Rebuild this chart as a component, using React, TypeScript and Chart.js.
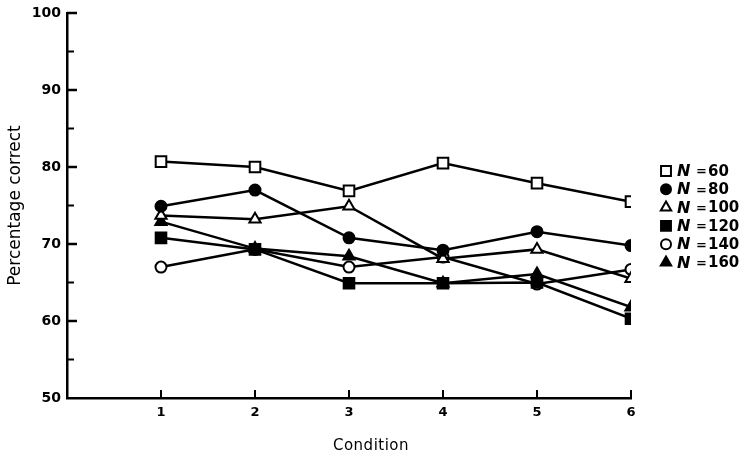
import React, { useEffect, useRef } from 'react';
import { Chart, registerables } from 'chart.js';
import { drawPoint } from 'chart.js/helpers';

Chart.register(...registerables);

const conditions = [1, 2, 3, 4, 5, 6];
const n60 = [80.7, 80.0, 76.9, 80.5, 77.9, 75.5];
const n80 = [74.9, 77.0, 70.8, 69.2, 71.6, 69.8];
const n100 = [73.7, 73.2, 74.9, 68.1, 69.3, 65.5];
const n120 = [70.8, 69.3, 64.9, 64.9, 65.0, 60.3];
const n140 = [67.0, 69.3, 67.0, 68.3, 64.8, 66.7];
const n160 = [72.9, 69.4, 68.4, 64.9, 66.1, 61.8];
const seriesNames = ['60', '80', '100', '120', '140', '160'];
const seriesValues = [n60, n80, n100, n120, n140, n160];
const xTitle = 'Condition';
const yTitle = 'Percentage correct';

const markerStyles = [
  { pointStyle: 'rect', radius: 7.5, fill: '#ffffff' },
  { pointStyle: 'circle', radius: 5.5, fill: '#000000' },
  { pointStyle: 'triangle', radius: 6.5, fill: '#ffffff' },
  { pointStyle: 'rect', radius: 7.5, fill: '#000000' },
  { pointStyle: 'circle', radius: 5.5, fill: '#ffffff' },
  { pointStyle: 'triangle', radius: 6.5, fill: '#000000' },
];

const FONT = '"DejaVu Sans", sans-serif';

const decorPlugin = {
  id: 'decor',
  beforeDraw(chart: any) {
    chart.ctx.letterSpacing = '0px';
  },
  afterDraw(chart: any) {
    const ctx = chart.ctx;
    const xs = chart.scales.x;
    const ys = chart.scales.y;
    const area = chart.chartArea;
    ctx.save();
    ctx.letterSpacing = '0px';
    ctx.strokeStyle = '#000';
    // y ticks (inward)
    for (let v = 55; v <= 100; v += 5) {
      const y = ys.getPixelForValue(v);
      const major = v % 10 === 0;
      ctx.lineWidth = major ? 2.5 : 2;
      ctx.beginPath();
      ctx.moveTo(area.left, y);
      ctx.lineTo(area.left + (major ? 10 : 7), y);
      ctx.stroke();
    }
    // x ticks (inward)
    ctx.lineWidth = 2;
    conditions.forEach((c) => {
      const x = xs.getPixelForValue(c);
      ctx.beginPath();
      ctx.moveTo(x, area.bottom);
      ctx.lineTo(x, area.bottom - 8);
      ctx.stroke();
    });
    // axis titles
    ctx.fillStyle = '#000';
    ctx.font = `15px ${FONT}`;
    ctx.letterSpacing = '0.5px';
    ctx.textAlign = 'center';
    ctx.textBaseline = 'middle';
    ctx.fillText(xTitle, (area.left + area.right) / 2 + 22, 446);
    ctx.letterSpacing = '0px';
    ctx.save();
    ctx.translate(16, (area.top + area.bottom) / 2);
    ctx.rotate(-Math.PI / 2);
    ctx.font = `17px ${FONT}`;
    ctx.fillText(yTitle, 0, 0);
    ctx.restore();
    // legend
    const lx = 666;
    seriesNames.forEach((name, i) => {
      const y = 171 + i * 18.3;
      const st = markerStyles[i];
      ctx.fillStyle = st.fill;
      ctx.strokeStyle = '#000';
      ctx.lineWidth = 2;
      drawPoint(ctx, { pointStyle: st.pointStyle, radius: st.radius - 0.5, rotation: 0, borderWidth: 2 }, lx, y);
      ctx.fillStyle = '#000';
      ctx.textAlign = 'left';
      ctx.textBaseline = 'middle';
      ctx.letterSpacing = '0px';
      ctx.font = `italic bold 16px ${FONT}`;
      ctx.fillText('N', 677, y + 1);
      ctx.font = `bold 13px ${FONT}`;
      ctx.fillText('=', 696, y + 1);
      ctx.font = `bold 15px ${FONT}`;
      ctx.fillText(name, 708, y + 1);
    });
    ctx.restore();
  },
};

export default function App() {
  const ref = useRef<HTMLCanvasElement | null>(null);
  useEffect(() => {
    document.body.style.margin = '0';
    const canvas = ref.current;
    if (!canvas) return;
    const chart = new Chart(canvas, {
      type: 'line',
      data: {
        datasets: seriesValues.map((vals, i) => ({
          label: 'N = ' + seriesNames[i],
          data: conditions.map((c, j) => ({ x: c, y: vals[j] })),
          borderColor: '#000',
          borderWidth: 2.5,
          pointStyle: markerStyles[i].pointStyle as any,
          pointRadius: markerStyles[i].radius,
          pointHoverRadius: markerStyles[i].radius,
          pointBackgroundColor: markerStyles[i].fill,
          pointBorderColor: '#000',
          pointBorderWidth: 2,
          tension: 0,
          fill: false,
        })),
      },
      options: {
        animation: false,
        responsive: false,
        devicePixelRatio: 1,
        layout: { padding: { top: 11, right: 117, left: 0, bottom: 0 } },
        plugins: {
          legend: { display: false },
          tooltip: { enabled: false },
          title: { display: false },
        },
        scales: {
          x: {
            type: 'linear',
            min: 0,
            max: 6,
            afterFit: (s: any) => { s.height = 59; },
            grid: { display: false, drawTicks: false, tickLength: 0 },
            border: { display: true, color: '#000', width: 2.5 },
            ticks: {
              stepSize: 1,
              autoSkip: false,
              padding: 8,
              color: '#000',
              font: { family: FONT, size: 13, weight: 'bold', lineHeight: 1 },
              maxRotation: 0,
              callback: (v: any) => (v === 0 ? '' : String(v)),
            },
          },
          y: {
            type: 'linear',
            min: 50,
            max: 100,
            afterFit: (s: any) => { s.width = 67; },
            grid: { display: false, drawTicks: false, tickLength: 0 },
            border: { display: true, color: '#000', width: 2.5 },
            ticks: {
              stepSize: 5,
              autoSkip: false,
              padding: 6,
              color: '#000',
              font: { family: FONT, size: 14, weight: 'bold', lineHeight: 1 },
              callback: (v: any) => (v % 10 === 0 ? String(v) : ''),
            },
          },
        },
      },
      plugins: [decorPlugin],
    } as any);
    return () => chart.destroy();
  }, []);
  return <canvas ref={ref} width={748} height={457} style={{ display: 'block' }} />;
}
